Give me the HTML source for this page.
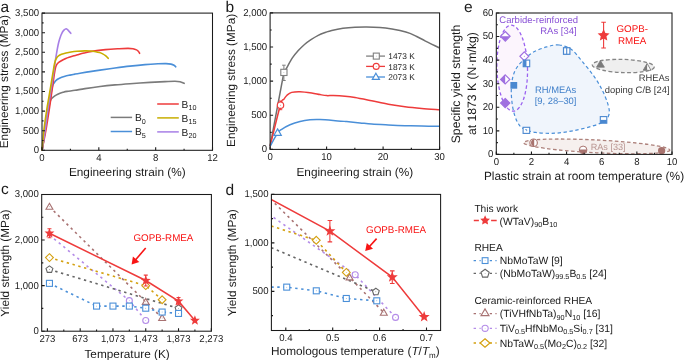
<!DOCTYPE html><html><head><meta charset="utf-8"><style>html,body{margin:0;padding:0;background:#fff;}svg{display:block;will-change:transform;}text{font-family:"Liberation Sans", sans-serif;text-rendering:geometricPrecision;}</style></head><body>
<svg width="685" height="360" viewBox="0 0 685 360">
<rect width="685" height="360" fill="#fff"/>
<path d="M42.1,150.3 C42.92,144.92 45.77,125.72 47,118 C48.23,110.28 48.9,106.95 49.5,104 C50.1,101.05 50.25,101.2 50.6,100.3 C50.95,99.4 51.17,99.13 51.6,98.6 C52.03,98.07 52.45,97.68 53.2,97.1 C53.95,96.52 54.97,95.73 56.1,95.1 C57.23,94.47 58.85,93.77 60,93.3 C61.15,92.83 61.83,92.62 63,92.3 C64.17,91.98 65,91.73 67,91.4 C69,91.07 72,90.77 75,90.3 C78,89.83 80.83,89.23 85,88.6 C89.17,87.97 95,87.12 100,86.5 C105,85.88 110,85.37 115,84.9 C120,84.43 124.17,84.12 130,83.7 C135.83,83.28 144.17,82.75 150,82.4 C155.83,82.05 160.83,81.78 165,81.6 C169.17,81.42 172.5,81.28 175,81.3 C177.5,81.32 178.47,81.37 180,81.7 C181.53,82.03 183.5,83.03 184.2,83.3" fill="none" stroke="#7b7b7b" stroke-width="1.6" stroke-linejoin="round" stroke-linecap="round"/>
<path d="M42.1,150.3 C43,144.42 46.1,124.05 47.5,115 C48.9,105.95 49.68,100.75 50.5,96 C51.32,91.25 51.92,88.52 52.4,86.5 C52.88,84.48 53,84.67 53.4,83.9 C53.8,83.13 54.35,82.48 54.8,81.9 C55.25,81.32 55.48,80.92 56.1,80.4 C56.72,79.88 57.57,79.32 58.5,78.8 C59.43,78.28 60.62,77.73 61.7,77.3 C62.78,76.87 63.62,76.57 65,76.2 C66.38,75.83 68.33,75.45 70,75.1 C71.67,74.75 73.33,74.42 75,74.1 C76.67,73.78 77.5,73.62 80,73.2 C82.5,72.78 86.67,72.12 90,71.6 C93.33,71.08 95.83,70.7 100,70.1 C104.17,69.5 110,68.67 115,68 C120,67.33 125,66.67 130,66.1 C135,65.53 140.33,64.98 145,64.6 C149.67,64.22 154.5,63.97 158,63.8 C161.5,63.63 163.83,63.55 166,63.6 C168.17,63.65 169.67,63.83 171,64.1 C172.33,64.37 173.2,64.75 174,65.2 C174.8,65.65 175.5,66.53 175.8,66.8" fill="none" stroke="#4a8fd8" stroke-width="1.6" stroke-linejoin="round" stroke-linecap="round"/>
<path d="M42.1,150.3 C42.27,149.42 42.4,148.72 43.1,145 C43.8,141.28 45.28,133.83 46.3,128 C47.32,122.17 48.28,116 49.2,110 C50.12,104 50.97,97.83 51.8,92 C52.63,86.17 53.62,78.92 54.2,75 C54.78,71.08 54.95,70.12 55.3,68.5 C55.65,66.88 55.85,66.22 56.3,65.3 C56.75,64.38 57.3,63.68 58,63 C58.7,62.32 59.2,61.95 60.5,61.2 C61.8,60.45 64.22,59.2 65.8,58.5 C67.38,57.8 68.47,57.5 70,57 C71.53,56.5 73.72,55.88 75,55.5 C76.28,55.12 76.2,55.12 77.7,54.7 C79.2,54.28 81.68,53.55 84,53 C86.32,52.45 88.02,51.97 91.6,51.4 C95.18,50.83 100.88,50.05 105.5,49.6 C110.12,49.15 115.55,48.9 119.3,48.7 C123.05,48.5 125.72,48.4 128,48.4 C130.28,48.4 131.58,48.45 133,48.7 C134.42,48.95 135.58,49.43 136.5,49.9 C137.42,50.37 137.98,50.93 138.5,51.5 C139.02,52.07 139.42,53 139.6,53.3" fill="none" stroke="#ee3b3b" stroke-width="1.6" stroke-linejoin="round" stroke-linecap="round"/>
<path d="M42.1,150.3 C42.62,146.92 44.25,136.72 45.2,130 C46.15,123.28 46.9,116.33 47.8,110 C48.7,103.67 49.68,97.83 50.6,92 C51.52,86.17 52.52,80.17 53.3,75 C54.08,69.83 54.73,64.75 55.3,61 C55.87,57.25 56.25,55.08 56.7,52.5 C57.15,49.92 57.58,47.5 58,45.5 C58.42,43.5 58.78,42.02 59.2,40.5 C59.62,38.98 60.08,37.55 60.5,36.4 C60.92,35.25 61.28,34.45 61.7,33.6 C62.12,32.75 62.58,31.92 63,31.3 C63.42,30.68 63.83,30.27 64.2,29.9 C64.57,29.53 64.87,29.28 65.2,29.1 C65.53,28.92 65.87,28.77 66.2,28.8 C66.53,28.83 66.85,29.03 67.2,29.3 C67.55,29.57 67.92,29.98 68.3,30.4 C68.68,30.82 69.08,31.32 69.5,31.8 C69.92,32.28 70.58,33.05 70.8,33.3" fill="none" stroke="#a77fe6" stroke-width="1.6" stroke-linejoin="round" stroke-linecap="round"/>
<path d="M42.1,150.3 C42.4,146.92 43.13,136.72 43.9,130 C44.67,123.28 45.75,116.17 46.7,110 C47.65,103.83 48.62,98.83 49.6,93 C50.58,87.17 51.83,79.58 52.6,75 C53.37,70.42 53.75,67.87 54.2,65.5 C54.65,63.13 54.9,62.05 55.3,60.8 C55.7,59.55 56.07,58.82 56.6,58 C57.13,57.18 57.68,56.52 58.5,55.9 C59.32,55.28 60.25,54.78 61.5,54.3 C62.75,53.82 64.42,53.38 66,53 C67.58,52.62 69.17,52.28 71,52 C72.83,51.72 74.72,51.48 77,51.3 C79.28,51.12 82.53,50.95 84.7,50.9 C86.87,50.85 88.15,50.87 90,51 C91.85,51.13 94.22,51.43 95.8,51.7 C97.38,51.97 98.35,52.23 99.5,52.6 C100.65,52.97 101.7,53.38 102.7,53.9 C103.7,54.42 104.57,54.97 105.5,55.7 C106.43,56.43 107.83,57.87 108.3,58.3" fill="none" stroke="#c8ae00" stroke-width="1.6" stroke-linejoin="round" stroke-linecap="round"/>
<rect x="42" y="13.1" width="170.5" height="137.2" fill="none" stroke="#1a1a1a" stroke-width="1.05"/>
<path d="M42,150.3 v-3 M98.83,150.3 v-3 M155.67,150.3 v-3 M212.5,150.3 v-3 M70.42,150.3 v-1.6 M127.25,150.3 v-1.6 M184.08,150.3 v-1.6 M42,150.3 h3 M42,130.7 h3 M42,111.1 h3 M42,91.5 h3 M42,71.9 h3 M42,52.3 h3 M42,32.7 h3 M42,13.1 h3 M42,140.5 h1.6 M42,120.9 h1.6 M42,101.3 h1.6 M42,81.7 h1.6 M42,62.1 h1.6 M42,42.5 h1.6 M42,22.9 h1.6 " stroke="#1a1a1a" stroke-width="1.1" fill="none"/>
<text transform="translate(42,160.7) scale(1,1.04)" font-size="9.6" text-anchor="middle" fill="#1a1a1a">0</text>
<text transform="translate(98.83,160.7) scale(1,1.04)" font-size="9.6" text-anchor="middle" fill="#1a1a1a">4</text>
<text transform="translate(155.67,160.7) scale(1,1.04)" font-size="9.6" text-anchor="middle" fill="#1a1a1a">8</text>
<text transform="translate(212.5,160.7) scale(1,1.04)" font-size="9.6" text-anchor="middle" fill="#1a1a1a">12</text>
<text transform="translate(39.1,153.19) scale(1,1.04)" font-size="9.6" text-anchor="end" fill="#1a1a1a">0</text>
<text transform="translate(39.1,133.59) scale(1,1.04)" font-size="9.6" text-anchor="end" fill="#1a1a1a">500</text>
<text transform="translate(39.1,113.99) scale(1,1.04)" font-size="9.6" text-anchor="end" fill="#1a1a1a">1,000</text>
<text transform="translate(39.1,94.39) scale(1,1.04)" font-size="9.6" text-anchor="end" fill="#1a1a1a">1,500</text>
<text transform="translate(39.1,74.79) scale(1,1.04)" font-size="9.6" text-anchor="end" fill="#1a1a1a">2,000</text>
<text transform="translate(39.1,55.19) scale(1,1.04)" font-size="9.6" text-anchor="end" fill="#1a1a1a">2,500</text>
<text transform="translate(39.1,35.59) scale(1,1.04)" font-size="9.6" text-anchor="end" fill="#1a1a1a">3,000</text>
<text transform="translate(39.1,15.99) scale(1,1.04)" font-size="9.6" text-anchor="end" fill="#1a1a1a">3,500</text>
<path d="M110.7,117.4 H132.1" stroke="#7b7b7b" stroke-width="1.5"/>
<path d="M110.7,131.5 H132.1" stroke="#4a8fd8" stroke-width="1.5"/>
<path d="M157.2,104 H178.8" stroke="#ee3b3b" stroke-width="1.5"/>
<path d="M157.2,117.9 H178.8" stroke="#c8ae00" stroke-width="1.5"/>
<path d="M157.2,131.9 H178.8" stroke="#a77fe6" stroke-width="1.5"/>
<text x="135" y="121.2" font-size="10.2" fill="#1a1a1a">B<tspan font-size="7.2" dy="2.6">0</tspan></text>
<text x="135" y="135.3" font-size="10.2" fill="#1a1a1a">B<tspan font-size="7.2" dy="2.6">5</tspan></text>
<text x="181.6" y="107.8" font-size="10.2" fill="#1a1a1a">B<tspan font-size="7.2" dy="2.6">10</tspan></text>
<text x="181.6" y="121.7" font-size="10.2" fill="#1a1a1a">B<tspan font-size="7.2" dy="2.6">15</tspan></text>
<text x="181.6" y="135.7" font-size="10.2" fill="#1a1a1a">B<tspan font-size="7.2" dy="2.6">20</tspan></text>
<text x="0.6" y="11.7" font-size="15.5" text-anchor="start" fill="#1a1a1a" >a</text>
<text x="127.25" y="176.1" font-size="11.8" text-anchor="middle" fill="#1a1a1a" >Engineering strain (%)</text>
<text transform="translate(8.4,81.7) rotate(-90)" font-size="11.8" text-anchor="middle" fill="#1a1a1a">Engineering stress (MPa)</text>
<path d="M270.1,146.2 L283.9,72.4 C284.27,71.82 284.72,71.27 286.1,68.9 C287.48,66.53 290.17,61.25 292.2,58.2 C294.23,55.15 296.25,52.88 298.3,50.6 C300.35,48.32 302.45,46.28 304.5,44.5 C306.55,42.72 308.32,41.43 310.6,39.9 C312.88,38.37 315.65,36.58 318.2,35.3 C320.75,34.02 323.65,33.02 325.9,32.2 C328.15,31.38 328.85,31.05 331.7,30.4 C334.55,29.75 339.12,28.83 343,28.3 C346.88,27.77 351.05,27.43 355,27.2 C358.95,26.97 362.53,26.85 366.7,26.9 C370.87,26.95 375.78,27.15 380,27.5 C384.22,27.85 388.67,28.48 392,29 C395.33,29.52 397,29.87 400,30.6 C403,31.33 407.22,32.42 410,33.4 C412.78,34.38 414.2,35.27 416.7,36.5 C419.2,37.73 422.45,39.5 425,40.8 C427.55,42.1 429.57,43.1 432,44.3 C434.43,45.5 438.33,47.38 439.6,48" fill="none" stroke="#707070" stroke-width="1.5" stroke-linejoin="round"/>
<path d="M270.1,146.2 C271.82,139.33 278.12,112.82 280.4,105 C282.68,97.18 282.7,100.93 283.8,99.3 C284.9,97.67 285.68,96.35 287,95.2 C288.32,94.05 289.53,92.98 291.7,92.4 C293.87,91.82 296.67,91.6 300,91.7 C303.33,91.8 308.37,92.52 311.7,93 C315.03,93.48 317.5,94.17 320,94.6 C322.5,95.03 324.48,95.45 326.7,95.6 C328.92,95.75 330.25,95.4 333.3,95.5 C336.35,95.6 341.38,95.87 345,96.2 C348.62,96.53 350.55,96.73 355,97.5 C359.45,98.27 366.15,99.68 371.7,100.8 C377.25,101.92 382.75,103.22 388.3,104.2 C393.85,105.18 399.43,106 405,106.7 C410.57,107.4 415.93,107.9 421.7,108.4 C427.47,108.9 436.62,109.48 439.6,109.7" fill="none" stroke="#ee3b3b" stroke-width="1.5" stroke-linejoin="round"/>
<path d="M270.1,146.2 C271.35,144.03 275.67,136.02 277.6,133.2 C279.53,130.38 279.63,130.72 281.7,129.3 C283.77,127.88 286.95,126.02 290,124.7 C293.05,123.38 296.67,122.22 300,121.4 C303.33,120.58 306.67,120.1 310,119.8 C313.33,119.5 316.12,119.5 320,119.6 C323.88,119.7 328.85,120.07 333.3,120.4 C337.75,120.73 342.25,121.18 346.7,121.6 C351.15,122.02 355.83,122.48 360,122.9 C364.17,123.32 366.98,123.75 371.7,124.1 C376.42,124.45 382.75,124.73 388.3,125 C393.85,125.27 399.43,125.52 405,125.7 C410.57,125.88 415.93,126 421.7,126.1 C427.47,126.2 436.62,126.27 439.6,126.3" fill="none" stroke="#4a8fd8" stroke-width="1.5" stroke-linejoin="round"/>
<path d="M283.9,65.2 V80.5 M282.1,65.2 h3.6 M282.1,80.5 h3.6" stroke="#808080" stroke-width="1.0" fill="none"/>
<rect x="280.8" y="69.3" width="6.2" height="6.2" fill="#fff" stroke="#808080" stroke-width="1.1" />
<circle cx="283.9" cy="72.4" r="0.45" fill="#999"/>
<path d="M280.5,101 V109.7 M278.75,101 h3.5 M278.75,109.7 h3.5" stroke="#ee3b3b" stroke-width="1.0" fill="none"/>
<circle cx="280.5" cy="105.2" r="3.2" fill="#fff" stroke="#ee3b3b" stroke-width="1.2" />
<circle cx="280.5" cy="105.2" r="0.45" fill="#ee3b3b"/>
<path d="M277.6,128.92 L281.28,135.32 L273.92,135.32Z" fill="#fff" stroke="#4a8fd8" stroke-width="1.2" stroke-linejoin="miter" />
<rect x="270.1" y="12.9" width="169.5" height="136.5" fill="none" stroke="#1a1a1a" stroke-width="1.05"/>
<path d="M270.1,149.4 v-3 M326.6,149.4 v-3 M383.1,149.4 v-3 M439.6,149.4 v-3 M298.35,149.4 v-1.6 M354.85,149.4 v-1.6 M411.35,149.4 v-1.6 M270.1,149.4 h3 M270.1,115.28 h3 M270.1,81.15 h3 M270.1,47.03 h3 M270.1,12.9 h3 M270.1,132.34 h1.6 M270.1,98.21 h1.6 M270.1,64.09 h1.6 M270.1,29.96 h1.6 " stroke="#1a1a1a" stroke-width="1.1" fill="none"/>
<text transform="translate(270.1,159.8) scale(1,1.04)" font-size="9.6" text-anchor="middle" fill="#1a1a1a">0</text>
<text transform="translate(326.6,159.8) scale(1,1.04)" font-size="9.6" text-anchor="middle" fill="#1a1a1a">10</text>
<text transform="translate(383.1,159.8) scale(1,1.04)" font-size="9.6" text-anchor="middle" fill="#1a1a1a">20</text>
<text transform="translate(439.6,159.8) scale(1,1.04)" font-size="9.6" text-anchor="middle" fill="#1a1a1a">30</text>
<text transform="translate(267.2,152.29) scale(1,1.04)" font-size="9.6" text-anchor="end" fill="#1a1a1a">0</text>
<text transform="translate(267.2,118.16) scale(1,1.04)" font-size="9.6" text-anchor="end" fill="#1a1a1a">500</text>
<text transform="translate(267.2,84.04) scale(1,1.04)" font-size="9.6" text-anchor="end" fill="#1a1a1a">1,000</text>
<text transform="translate(267.2,49.91) scale(1,1.04)" font-size="9.6" text-anchor="end" fill="#1a1a1a">1,500</text>
<text transform="translate(267.2,15.79) scale(1,1.04)" font-size="9.6" text-anchor="end" fill="#1a1a1a">2,000</text>
<path d="M366.1,56.1 H385" stroke="#808080" stroke-width="1.3"/>
<rect x="373.3" y="53.1" width="6" height="6" fill="#fff" stroke="#808080" stroke-width="1.1" />
<circle cx="376.3" cy="56.1" r="0.45" fill="#999"/>
<path d="M366.1,66.4 H385" stroke="#ee3b3b" stroke-width="1.3"/>
<circle cx="376.2" cy="66.4" r="3" fill="#fff" stroke="#ee3b3b" stroke-width="1.1" />
<circle cx="376.2" cy="66.4" r="0.45" fill="#ee3b3b"/>
<path d="M366.1,77 H385" stroke="#4a8fd8" stroke-width="1.3"/>
<path d="M375.9,73.23 L379.46,79.44 L372.33,79.44Z" fill="#fff" stroke="#4a8fd8" stroke-width="1.2" stroke-linejoin="miter" />
<text x="388.3" y="59.4" font-size="8.35" text-anchor="start" fill="#1a1a1a" >1473 K</text>
<text x="388.3" y="69.7" font-size="8.35" text-anchor="start" fill="#1a1a1a" >1873 K</text>
<text x="388.3" y="80.2" font-size="8.35" text-anchor="start" fill="#1a1a1a" >2073 K</text>
<text x="225.5" y="11.6" font-size="15.5" text-anchor="start" fill="#1a1a1a" >b</text>
<text x="354.85" y="176.1" font-size="11.8" text-anchor="middle" fill="#1a1a1a" >Engineering strain (%)</text>
<text transform="translate(235.2,80.35) rotate(-90)" font-size="11.8" text-anchor="middle" fill="#1a1a1a">Engineering stress (MPa)</text>
<defs><clipPath id="ce"><rect x="496.3" y="13" width="175.7" height="141.4"/></clipPath></defs>
<g clip-path="url(#ce)">
<ellipse cx="596.8" cy="146.4" rx="73.2" ry="6.4" transform="rotate(2.9 596.8 146.4)" fill="#f6f0ee" stroke="#ad817b" stroke-width="1.3" stroke-dasharray="3.5 2.5"/>
<ellipse cx="512.2" cy="68.2" rx="15.3" ry="43" transform="rotate(-1.5 512.2 68.2)" fill="#fcf5fd" stroke="none"/>
<path d="M559.2,45 C555.03,44.53 551.07,45.68 546.7,46.9 C542.33,48.12 537.03,49.95 533,52.3 C528.97,54.65 525.33,58.25 522.5,61 C519.67,63.75 517.65,65.97 516,68.8 C514.35,71.63 513.38,74.63 512.6,78 C511.82,81.37 511.45,85.42 511.3,89 C511.15,92.58 511.35,95.9 511.7,99.5 C512.05,103.1 512.48,106.9 513.4,110.6 C514.32,114.3 515.6,118.72 517.2,121.7 C518.8,124.68 519.93,126.72 523,128.5 C526.07,130.28 530.27,131.62 535.6,132.4 C540.93,133.18 548.53,133.52 555,133.2 C561.47,132.88 567.92,131.77 574.4,130.5 C580.88,129.23 588.8,127.25 593.9,125.6 C599,123.95 602.45,122.6 605,120.6 C607.55,118.6 608.73,116.38 609.2,113.6 C609.67,110.82 608.97,107.83 607.8,103.9 C606.63,99.97 604.52,94.63 602.2,90 C599.88,85.37 597.13,80.73 593.9,76.1 C590.67,71.47 586.5,66.6 582.8,62.2 C579.1,57.8 575.63,52.57 571.7,49.7 C567.77,46.83 563.37,45.47 559.2,45Z" fill="#edf3fc" fill-opacity="0.85" stroke="none"/>
<ellipse cx="512.2" cy="68.2" rx="15.3" ry="43" transform="rotate(-1.5 512.2 68.2)" fill="none" stroke="#9b63f0" stroke-width="1.3" stroke-dasharray="3.4 2.4"/>
<path d="M559.2,45 C555.03,44.53 551.07,45.68 546.7,46.9 C542.33,48.12 537.03,49.95 533,52.3 C528.97,54.65 525.33,58.25 522.5,61 C519.67,63.75 517.65,65.97 516,68.8 C514.35,71.63 513.38,74.63 512.6,78 C511.82,81.37 511.45,85.42 511.3,89 C511.15,92.58 511.35,95.9 511.7,99.5 C512.05,103.1 512.48,106.9 513.4,110.6 C514.32,114.3 515.6,118.72 517.2,121.7 C518.8,124.68 519.93,126.72 523,128.5 C526.07,130.28 530.27,131.62 535.6,132.4 C540.93,133.18 548.53,133.52 555,133.2 C561.47,132.88 567.92,131.77 574.4,130.5 C580.88,129.23 588.8,127.25 593.9,125.6 C599,123.95 602.45,122.6 605,120.6 C607.55,118.6 608.73,116.38 609.2,113.6 C609.67,110.82 608.97,107.83 607.8,103.9 C606.63,99.97 604.52,94.63 602.2,90 C599.88,85.37 597.13,80.73 593.9,76.1 C590.67,71.47 586.5,66.6 582.8,62.2 C579.1,57.8 575.63,52.57 571.7,49.7 C567.77,46.83 563.37,45.47 559.2,45Z" fill="none" stroke="#4a8fd8" stroke-width="1.2" stroke-dasharray="3.4 2.6"/>
<ellipse cx="623.3" cy="66.0" rx="31" ry="6.6" transform="rotate(2 623.3 66)" fill="#efefef" stroke="#858585" stroke-width="1.35" stroke-dasharray="3.8 2.4"/>
</g>
<path d="M505.3,31.6 L510.1,36.3 L505.3,41 L500.5,36.3Z" fill="#fff"/>
<path d="M500.5,36.3 L510.1,36.3 L505.3,41.1Z" fill="#a070e0"/>
<path d="M505.3,31.5 L510.1,36.3 L505.3,41.1 L500.5,36.3Z" fill="none" stroke="#a070e0" stroke-width="1.2"/>
<path d="M524.3,52 L528.8,56.3 L524.3,60.6 L519.8,56.3Z" fill="#fff"/>
<path d="M524.3,51.9 L528.7,56.3 L524.3,60.7 L519.9,56.3Z" fill="none" stroke="#a070e0" stroke-width="1.2"/>
<circle cx="524.3" cy="56.3" r="0.5" fill="#a070e0"/>
<path d="M505.2,74.7 L509.9,79.4 L505.2,84.1 L500.5,79.4Z" fill="#fff"/>
<path d="M505.2,74.8 L505.2,84 L500.6,79.4Z" fill="#a070e0"/>
<path d="M505.2,74.8 L509.8,79.4 L505.2,84 L500.6,79.4Z" fill="none" stroke="#a070e0" stroke-width="1.2"/>
<path d="M505.2,98.5 L509.8,103.1 L505.2,107.7 L500.6,103.1Z" fill="#a070e0"/>
<path d="M505.2,98.5 L509.8,103.1 L505.2,107.7 L500.6,103.1Z" fill="none" stroke="#a070e0" stroke-width="1.2"/>
<rect x="523.2" y="60.1" width="6.5" height="6.6" fill="#fff" stroke="#4a88d0" stroke-width="1.1"/>
<rect x="523.2" y="60.1" width="3.25" height="6.6" fill="#4a88d0"/>
<rect x="510.4" y="82.0" width="6.8" height="6.7" fill="#4a88d0"/>
<rect x="563.5" y="47.7" width="6.4" height="6.6" fill="#fff" stroke="#4a88d0" stroke-width="1.2"/>
<path d="M566.7,47.7 V54.3" stroke="#4a88d0" stroke-width="1.1"/>
<rect x="523.1" y="127.3" width="6.6" height="6.1" fill="#fff" stroke="#4a88d0" stroke-width="1.1"/>
<path d="M525.2,129.6 h1.5 v1.6" stroke="#4a88d0" stroke-width="0.8" fill="none"/>
<rect x="600.3" y="116.6" width="6.5" height="6.6" fill="#fff" stroke="#4a88d0" stroke-width="1.1"/>
<rect x="600.3" y="119.9" width="6.5" height="3.3" fill="#4a88d0"/>
<path d="M600.4,60.6 L604.4,67.2 L596.5,67.2Z" fill="#7a7a7a" stroke="#7a7a7a" stroke-width="0.8"/>
<path d="M647.1,63.5 L651,70.3 L643.2,70.3Z" fill="#fff" stroke="#7a7a7a" stroke-width="0.9"/>
<path d="M647.1,63.5 L647.1,70.3 L643.2,70.3Z" fill="#7a7a7a"/>
<circle cx="533.6" cy="142.7" r="3.75" fill="#fff" stroke="#a8736e" stroke-width="1.1"/>
<path d="M534.2,138.95 A3.8,3.8 0 0 0 534.2,146.45 L534.2,138.95Z" fill="#a8736e"/>
<circle cx="583.1" cy="149.9" r="3.8" fill="#fff" stroke="#a8736e" stroke-width="1"/>
<path d="M579.3,149.6 A3.8,3.8 0 0 0 586.9,149.6Z" fill="#a8736e"/>
<circle cx="661.6" cy="150.7" r="3.6" fill="#a8736e"/>
<path d="M603.6,22.2 V48 M601.3,22.2 h4.6 M601.3,48 h4.6" stroke="#ee3b3b" stroke-width="1.1" fill="none"/>
<path d="M603.6,29.1 L605.36,32.97 L609.59,33.45 L606.45,36.33 L607.3,40.5 L603.6,38.4 L599.9,40.5 L600.75,36.33 L597.61,33.45 L601.84,32.97Z" fill="#ee3b3b"/>
<rect x="496.3" y="13" width="175.7" height="141.4" fill="none" stroke="#1a1a1a" stroke-width="1.05"/>
<path d="M496.3,154.4 v-3 M531.44,154.4 v-3 M566.58,154.4 v-3 M601.72,154.4 v-3 M636.86,154.4 v-3 M672,154.4 v-3 M513.87,154.4 v-1.6 M549.01,154.4 v-1.6 M584.15,154.4 v-1.6 M619.29,154.4 v-1.6 M654.43,154.4 v-1.6 M496.3,154.4 h3 M496.3,130.83 h3 M496.3,107.27 h3 M496.3,83.7 h3 M496.3,60.13 h3 M496.3,36.57 h3 M496.3,13 h3 M496.3,142.62 h1.6 M496.3,119.05 h1.6 M496.3,95.48 h1.6 M496.3,71.92 h1.6 M496.3,48.35 h1.6 M496.3,24.78 h1.6 " stroke="#1a1a1a" stroke-width="1.1" fill="none"/>
<text transform="translate(496.3,164.8) scale(1,1.04)" font-size="9.6" text-anchor="middle" fill="#1a1a1a">0</text>
<text transform="translate(531.44,164.8) scale(1,1.04)" font-size="9.6" text-anchor="middle" fill="#1a1a1a">2</text>
<text transform="translate(566.58,164.8) scale(1,1.04)" font-size="9.6" text-anchor="middle" fill="#1a1a1a">4</text>
<text transform="translate(601.72,164.8) scale(1,1.04)" font-size="9.6" text-anchor="middle" fill="#1a1a1a">6</text>
<text transform="translate(636.86,164.8) scale(1,1.04)" font-size="9.6" text-anchor="middle" fill="#1a1a1a">8</text>
<text transform="translate(672,164.8) scale(1,1.04)" font-size="9.6" text-anchor="middle" fill="#1a1a1a">10</text>
<text transform="translate(493.4,157.29) scale(1,1.04)" font-size="9.6" text-anchor="end" fill="#1a1a1a">0</text>
<text transform="translate(493.4,133.72) scale(1,1.04)" font-size="9.6" text-anchor="end" fill="#1a1a1a">10</text>
<text transform="translate(493.4,110.15) scale(1,1.04)" font-size="9.6" text-anchor="end" fill="#1a1a1a">20</text>
<text transform="translate(493.4,86.59) scale(1,1.04)" font-size="9.6" text-anchor="end" fill="#1a1a1a">30</text>
<text transform="translate(493.4,63.02) scale(1,1.04)" font-size="9.6" text-anchor="end" fill="#1a1a1a">40</text>
<text transform="translate(493.4,39.45) scale(1,1.04)" font-size="9.6" text-anchor="end" fill="#1a1a1a">50</text>
<text transform="translate(493.4,15.89) scale(1,1.04)" font-size="9.6" text-anchor="end" fill="#1a1a1a">60</text>
<text x="499.3" y="22.6" font-size="9.5" text-anchor="start" fill="#8a52d6" >Carbide-reinforced</text>
<text x="576.7" y="33.7" font-size="9.5" text-anchor="end" fill="#8a52d6" >RAs [34]</text>
<text x="555.6" y="92.6" font-size="9.4" text-anchor="middle" fill="#3f7fc9" >RH/MEAs</text>
<text x="555.6" y="104.2" font-size="9.4" text-anchor="middle" fill="#3f7fc9" >[9, 28–30]</text>
<text x="669.5" y="81.2" font-size="9.4" text-anchor="end" fill="#3a3a3a" >RHEAs</text>
<text x="669.5" y="93" font-size="9.4" text-anchor="end" fill="#3a3a3a" >doping C/B [24]</text>
<text x="590.7" y="149.7" font-size="9.1" text-anchor="start" fill="#b89490" >RAs [33]</text>
<text x="632.2" y="32" font-size="9.8" text-anchor="middle" fill="#f81414" >GOPB-</text>
<text x="632.2" y="43.8" font-size="9.8" text-anchor="middle" fill="#f81414" >RMEA</text>
<text x="464" y="11.5" font-size="15.5" text-anchor="start" fill="#1a1a1a" >e</text>
<text x="584" y="180.2" font-size="11.9" text-anchor="middle" fill="#1a1a1a" >Plastic strain at room temperature (%)</text>
<text transform="translate(459.6,84) rotate(-90)" font-size="12.2" text-anchor="middle" fill="#1a1a1a">Specific yield strength</text>
<text transform="translate(475.5,83.6) rotate(-90)" font-size="12.2" text-anchor="middle" fill="#1a1a1a">at 1873 K (N·m/kg)</text>
<path d="M49.45,206.76 L145.74,301.81 L162.13,317.99" fill="none" stroke="#a87272" stroke-width="1.6" stroke-dasharray="2.4 3.6"/>
<path d="M49.45,235.05 L129.35,300.67 L145.74,320.45" fill="none" stroke="#b48ce8" stroke-width="1.6" stroke-dasharray="2.4 3.6"/>
<path d="M49.45,257.61 L145.74,285.63 L162.13,299.76" fill="none" stroke="#d4a010" stroke-width="1.6" stroke-dasharray="2.4 3.6"/>
<path d="M49.45,269.46 L178.52,308.42" fill="none" stroke="#666666" stroke-width="1.6" stroke-dasharray="2.4 3.6"/>
<path d="M49.45,283.36 L96.57,306.09 L112.96,306.09 L129.35,306.09 L145.74,308.19 L162.13,312.06 L178.52,313.43" fill="none" stroke="#4a8fd8" stroke-width="1.6" stroke-dasharray="2.4 3.6"/>
<path d="M49.45,203.31 L52.9,209.31 L46,209.31Z" fill="#fff" stroke="#a87272" stroke-width="1.1" stroke-linejoin="miter" />
<circle cx="49.45" cy="206.76" r="0.45" fill="#a87272"/>
<path d="M145.74,298.36 L149.19,304.36 L142.29,304.36Z" fill="#fff" stroke="#a87272" stroke-width="1.1" stroke-linejoin="miter" />
<circle cx="145.74" cy="301.81" r="0.45" fill="#a87272"/>
<path d="M162.13,314.54 L165.58,320.54 L158.68,320.54Z" fill="#fff" stroke="#a87272" stroke-width="1.1" stroke-linejoin="miter" />
<circle cx="162.13" cy="317.99" r="0.45" fill="#a87272"/>
<circle cx="129.35" cy="300.67" r="3" fill="#fff" stroke="#b48ce8" stroke-width="1.1" />
<circle cx="129.35" cy="300.67" r="0.45" fill="#b48ce8"/>
<circle cx="145.74" cy="320.45" r="3" fill="#fff" stroke="#b48ce8" stroke-width="1.1" />
<circle cx="145.74" cy="320.45" r="0.45" fill="#b48ce8"/>
<path d="M49.45,253.69 L53.36,257.61 L49.45,261.52 L45.53,257.61Z" fill="#fff" stroke="#d4a010" stroke-width="1.1" />
<circle cx="49.45" cy="257.61" r="0.45" fill="#d4a010"/>
<path d="M145.74,281.72 L149.66,285.63 L145.74,289.55 L141.83,285.63Z" fill="#fff" stroke="#d4a010" stroke-width="1.1" />
<circle cx="145.74" cy="285.63" r="0.45" fill="#d4a010"/>
<path d="M162.13,295.84 L166.04,299.76 L162.13,303.67 L158.22,299.76Z" fill="#fff" stroke="#d4a010" stroke-width="1.1" />
<circle cx="162.13" cy="299.76" r="0.45" fill="#d4a010"/>
<path d="M49.45,265.86 L52.87,268.34 L51.56,272.37 L47.33,272.37 L46.02,268.34Z" fill="#fff" stroke="#666666" stroke-width="1.1" />
<circle cx="49.45" cy="269.46" r="0.45" fill="#666666"/>
<path d="M178.52,304.82 L181.94,307.3 L180.64,311.33 L176.4,311.33 L175.1,307.3Z" fill="#fff" stroke="#666666" stroke-width="1.1" />
<circle cx="178.52" cy="308.42" r="0.45" fill="#666666"/>
<rect x="46.45" y="280.36" width="6" height="6" fill="#fff" stroke="#4a8fd8" stroke-width="1.1" />
<circle cx="49.45" cy="283.36" r="0.45" fill="#4a8fd8"/>
<rect x="93.57" y="303.09" width="6" height="6" fill="#fff" stroke="#4a8fd8" stroke-width="1.1" />
<circle cx="96.57" cy="306.09" r="0.45" fill="#4a8fd8"/>
<rect x="109.96" y="303.09" width="6" height="6" fill="#fff" stroke="#4a8fd8" stroke-width="1.1" />
<circle cx="112.96" cy="306.09" r="0.45" fill="#4a8fd8"/>
<rect x="126.35" y="303.09" width="6" height="6" fill="#fff" stroke="#4a8fd8" stroke-width="1.1" />
<circle cx="129.35" cy="306.09" r="0.45" fill="#4a8fd8"/>
<rect x="142.74" y="305.19" width="6" height="6" fill="#fff" stroke="#4a8fd8" stroke-width="1.1" />
<circle cx="145.74" cy="308.19" r="0.45" fill="#4a8fd8"/>
<rect x="159.13" y="309.06" width="6" height="6" fill="#fff" stroke="#4a8fd8" stroke-width="1.1" />
<circle cx="162.13" cy="312.06" r="0.45" fill="#4a8fd8"/>
<rect x="175.52" y="310.43" width="6" height="6" fill="#fff" stroke="#4a8fd8" stroke-width="1.1" />
<circle cx="178.52" cy="313.43" r="0.45" fill="#4a8fd8"/>
<path d="M49.45,233.23 L145.74,280.53 L178.52,301.17 L194.91,320.45" fill="none" stroke="#ee3b3b" stroke-width="1.5"/>
<path d="M49.45,228.69 V237.77 M47.45,228.69 h4 M47.45,237.77 h4" stroke="#ee3b3b" stroke-width="1.1" fill="none"/>
<path d="M49.45,228.03 L50.74,231.45 L54.39,231.62 L51.54,233.91 L52.51,237.44 L49.45,235.43 L46.39,237.44 L47.36,233.91 L44.5,231.62 L48.16,231.45Z" fill="#ee3b3b"/>
<path d="M145.74,275.09 V285.97 M143.74,275.09 h4 M143.74,285.97 h4" stroke="#ee3b3b" stroke-width="1.1" fill="none"/>
<path d="M145.74,275.33 L147.03,278.75 L150.69,278.92 L147.83,281.21 L148.8,284.74 L145.74,282.73 L142.68,284.74 L143.65,281.21 L140.79,278.92 L144.45,278.75Z" fill="#ee3b3b"/>
<path d="M178.52,297.54 V304.8 M176.52,297.54 h4 M176.52,304.8 h4" stroke="#ee3b3b" stroke-width="1.1" fill="none"/>
<path d="M178.52,295.97 L179.81,299.39 L183.47,299.56 L180.61,301.85 L181.58,305.38 L178.52,303.37 L175.46,305.38 L176.43,301.85 L173.57,299.56 L177.23,299.39Z" fill="#ee3b3b"/>
<path d="M194.91,315.25 L196.2,318.67 L199.86,318.84 L197,321.13 L197.97,324.65 L194.91,322.65 L191.85,324.65 L192.82,321.13 L189.96,318.84 L193.62,318.67Z" fill="#ee3b3b"/>
<rect x="41.7" y="194.5" width="169.7" height="136.7" fill="none" stroke="#1a1a1a" stroke-width="1.05"/>
<path d="M47.4,331.2 v-3 M80.18,331.2 v-3 M112.96,331.2 v-3 M145.74,331.2 v-3 M178.52,331.2 v-3 M211.3,331.2 v-3 M63.79,331.2 v-1.6 M96.57,331.2 v-1.6 M129.35,331.2 v-1.6 M162.13,331.2 v-1.6 M194.91,331.2 v-1.6 M41.7,331.2 h3 M41.7,285.63 h3 M41.7,240.07 h3 M41.7,194.5 h3 M41.7,308.42 h1.6 M41.7,262.85 h1.6 M41.7,217.28 h1.6 " stroke="#1a1a1a" stroke-width="1.1" fill="none"/>
<text transform="translate(47.4,341.6) scale(1,1.04)" font-size="9.6" text-anchor="middle" fill="#1a1a1a">273</text>
<text transform="translate(80.18,341.6) scale(1,1.04)" font-size="9.6" text-anchor="middle" fill="#1a1a1a">673</text>
<text transform="translate(112.96,341.6) scale(1,1.04)" font-size="9.6" text-anchor="middle" fill="#1a1a1a">1,073</text>
<text transform="translate(145.74,341.6) scale(1,1.04)" font-size="9.6" text-anchor="middle" fill="#1a1a1a">1,473</text>
<text transform="translate(178.52,341.6) scale(1,1.04)" font-size="9.6" text-anchor="middle" fill="#1a1a1a">1,873</text>
<text transform="translate(211.3,341.6) scale(1,1.04)" font-size="9.6" text-anchor="middle" fill="#1a1a1a">2,273</text>
<text transform="translate(38.8,334.09) scale(1,1.04)" font-size="9.6" text-anchor="end" fill="#1a1a1a">0</text>
<text transform="translate(38.8,288.52) scale(1,1.04)" font-size="9.6" text-anchor="end" fill="#1a1a1a">1,000</text>
<text transform="translate(38.8,242.95) scale(1,1.04)" font-size="9.6" text-anchor="end" fill="#1a1a1a">2,000</text>
<text transform="translate(38.8,197.39) scale(1,1.04)" font-size="9.6" text-anchor="end" fill="#1a1a1a">3,000</text>
<text x="133.5" y="240.7" font-size="9.8" text-anchor="start" fill="#f81414" >GOPB-RMEA</text>
<path d="M145.7,247.9 L135.47,260.02" stroke="#f81414" stroke-width="1.6"/>
<path d="M131.6,264.6 L132.91,256.54 L139.32,261.96Z" fill="#f81414"/>
<text x="1" y="194.2" font-size="15.5" text-anchor="start" fill="#1a1a1a" >c</text>
<text x="127.1" y="357.7" font-size="11.8" text-anchor="middle" fill="#1a1a1a" >Temperature (K)</text>
<text transform="translate(8.9,263.1) rotate(-90)" font-size="11.8" text-anchor="middle" fill="#1a1a1a">Yield strength (MPa)</text>
<defs><clipPath id="cd"><rect x="271.4" y="194.4" width="169.2" height="136.1"/></clipPath></defs>
<g clip-path="url(#cd)">
<path d="M274.78,203.32 L349.58,277.33 L383.82,312.64" fill="none" stroke="#a87272" stroke-width="1.6" stroke-dasharray="2.4 3.6"/>
<path d="M273.61,217.49 L355.21,274.72 L395.55,317.4" fill="none" stroke="#b48ce8" stroke-width="1.6" stroke-dasharray="2.4 3.6"/>
<path d="M271.26,226.02 L316.29,240.28 L346.3,272.39" fill="none" stroke="#d4a010" stroke-width="1.6" stroke-dasharray="2.4 3.6"/>
<path d="M271.26,247.65 L375.85,291.79" fill="none" stroke="#666666" stroke-width="1.6" stroke-dasharray="2.4 3.6"/>
<path d="M271.26,287.13 L286.74,287.13 L316.29,290.82 L346.3,298.48 L376.79,300.81" fill="none" stroke="#4a8fd8" stroke-width="1.6" stroke-dasharray="2.4 3.6"/>
<path d="M267.04,197.31 L329.89,231.16 L392.26,277.14 L424.15,316.91" fill="none" stroke="#ee3b3b" stroke-width="1.5"/>
</g>
<path d="M349.58,273.88 L353.03,279.88 L346.13,279.88Z" fill="#fff" stroke="#a87272" stroke-width="1.1" stroke-linejoin="miter" />
<circle cx="349.58" cy="277.33" r="0.45" fill="#a87272"/>
<path d="M383.82,309.19 L387.27,315.19 L380.37,315.19Z" fill="#fff" stroke="#a87272" stroke-width="1.1" stroke-linejoin="miter" />
<circle cx="383.82" cy="312.64" r="0.45" fill="#a87272"/>
<circle cx="355.21" cy="274.72" r="3" fill="#fff" stroke="#b48ce8" stroke-width="1.1" />
<circle cx="355.21" cy="274.72" r="0.45" fill="#b48ce8"/>
<circle cx="395.55" cy="317.4" r="3" fill="#fff" stroke="#b48ce8" stroke-width="1.1" />
<circle cx="395.55" cy="317.4" r="0.45" fill="#b48ce8"/>
<path d="M316.29,236.37 L320.2,240.28 L316.29,244.2 L312.37,240.28Z" fill="#fff" stroke="#d4a010" stroke-width="1.1" />
<circle cx="316.29" cy="240.28" r="0.45" fill="#d4a010"/>
<path d="M346.3,268.47 L350.22,272.39 L346.3,276.3 L342.39,272.39Z" fill="#fff" stroke="#d4a010" stroke-width="1.1" />
<circle cx="346.3" cy="272.39" r="0.45" fill="#d4a010"/>
<path d="M375.85,288.19 L379.27,290.68 L377.96,294.7 L373.73,294.7 L372.42,290.68Z" fill="#fff" stroke="#666666" stroke-width="1.1" />
<circle cx="375.85" cy="291.79" r="0.45" fill="#666666"/>
<rect x="283.74" y="284.13" width="6" height="6" fill="#fff" stroke="#4a8fd8" stroke-width="1.1" />
<circle cx="286.74" cy="287.13" r="0.45" fill="#4a8fd8"/>
<rect x="313.29" y="287.82" width="6" height="6" fill="#fff" stroke="#4a8fd8" stroke-width="1.1" />
<circle cx="316.29" cy="290.82" r="0.45" fill="#4a8fd8"/>
<rect x="343.3" y="295.48" width="6" height="6" fill="#fff" stroke="#4a8fd8" stroke-width="1.1" />
<circle cx="346.3" cy="298.48" r="0.45" fill="#4a8fd8"/>
<rect x="373.79" y="297.81" width="6" height="6" fill="#fff" stroke="#4a8fd8" stroke-width="1.1" />
<circle cx="376.79" cy="300.81" r="0.45" fill="#4a8fd8"/>
<path d="M329.89,220.49 V241.83 M327.59,220.49 h4.6 M327.59,241.83 h4.6" stroke="#ee3b3b" stroke-width="1.1" fill="none"/>
<path d="M329.89,225.36 L331.3,229.22 L335.4,229.37 L332.17,231.9 L333.3,235.86 L329.89,233.56 L326.48,235.86 L327.6,231.9 L324.37,229.37 L328.48,229.22Z" fill="#ee3b3b"/>
<path d="M392.26,270.84 V283.45 M389.96,270.84 h4.6 M389.96,283.45 h4.6" stroke="#ee3b3b" stroke-width="1.1" fill="none"/>
<path d="M392.26,271.34 L393.67,275.2 L397.78,275.35 L394.55,277.88 L395.67,281.83 L392.26,279.54 L388.85,281.83 L389.98,277.88 L386.75,275.35 L390.85,275.2Z" fill="#ee3b3b"/>
<path d="M424.15,311.11 L425.57,314.97 L429.67,315.12 L426.44,317.65 L427.56,321.6 L424.15,319.31 L420.75,321.6 L421.87,317.65 L418.64,315.12 L422.74,314.97Z" fill="#ee3b3b"/>
<rect x="271.4" y="194.4" width="169.2" height="136.1" fill="none" stroke="#1a1a1a" stroke-width="1.05"/>
<path d="M285.8,330.5 v-3 M332.7,330.5 v-3 M379.6,330.5 v-3 M426.5,330.5 v-3 M309.25,330.5 v-1.6 M356.15,330.5 v-1.6 M403.05,330.5 v-1.6 M271.4,291.4 h3 M271.4,242.9 h3 M271.4,194.4 h3 M271.4,315.65 h1.6 M271.4,267.15 h1.6 M271.4,218.65 h1.6 " stroke="#1a1a1a" stroke-width="1.1" fill="none"/>
<text transform="translate(285.8,340.9) scale(1,1.04)" font-size="9.6" text-anchor="middle" fill="#1a1a1a">0.4</text>
<text transform="translate(332.7,340.9) scale(1,1.04)" font-size="9.6" text-anchor="middle" fill="#1a1a1a">0.5</text>
<text transform="translate(379.6,340.9) scale(1,1.04)" font-size="9.6" text-anchor="middle" fill="#1a1a1a">0.6</text>
<text transform="translate(426.5,340.9) scale(1,1.04)" font-size="9.6" text-anchor="middle" fill="#1a1a1a">0.7</text>
<text transform="translate(268.5,294.29) scale(1,1.04)" font-size="9.6" text-anchor="end" fill="#1a1a1a">500</text>
<text transform="translate(268.5,245.79) scale(1,1.04)" font-size="9.6" text-anchor="end" fill="#1a1a1a">1,000</text>
<text transform="translate(268.5,197.29) scale(1,1.04)" font-size="9.6" text-anchor="end" fill="#1a1a1a">1,500</text>
<text x="366.1" y="232.8" font-size="9.8" text-anchor="start" fill="#f81414" >GOPB-RMEA</text>
<path d="M376.6,238.6 L369.24,246.67" stroke="#f81414" stroke-width="1.6"/>
<path d="M365.2,251.1 L366.81,243.1 L373.02,248.76Z" fill="#f81414"/>
<text x="225.5" y="194.6" font-size="15.5" text-anchor="start" fill="#1a1a1a" >d</text>
<text x="355.4" y="355.2" font-size="11.8" text-anchor="middle" fill="#1a1a1a">Homologous temperature (<tspan font-style="italic">T</tspan>/<tspan font-style="italic">T</tspan><tspan font-size="8" dy="2.5">m</tspan><tspan dy="-2.5">)</tspan></text>
<text transform="translate(235.6,262.8) rotate(-90)" font-size="11.8" text-anchor="middle" fill="#1a1a1a">Yield strength (MPa)</text>
<text x="474.4" y="211.5" font-size="10.2" text-anchor="start" fill="#1a1a1a" >This work</text>
<path d="M473.8,220.4 H478.9 M491.1,220.4 H496.7" stroke="#ee3b3b" stroke-width="1.5"/>
<path d="M485.1,215.3 L486.57,218.38 L489.95,218.82 L487.48,221.17 L488.1,224.53 L485.1,222.9 L482.1,224.53 L482.72,221.17 L480.25,218.82 L483.63,218.38Z" fill="#ee3b3b"/>
<text x="499.5" y="224.7" font-size="10.4" fill="#1a1a1a"><tspan dy="0">(WTaV)</tspan><tspan font-size="7.28" dy="2.6">90</tspan><tspan dy="-2.6">B</tspan><tspan font-size="7.28" dy="2.6">10</tspan></text>
<text x="474.4" y="251.4" font-size="10.2" text-anchor="start" fill="#1a1a1a" >RHEA</text>
<path d="M473.6,260.6 H476 M479.5,260.6 H480.7 M489.8,260.6 H492 M495.4,260.6 H496.6" stroke="#4a8fd8" stroke-width="1.3"/>
<rect x="482.2" y="257.7" width="5.8" height="5.8" fill="#fff" stroke="#4a8fd8" stroke-width="1.1" />
<circle cx="485.1" cy="260.6" r="0.4" fill="#4a8fd8"/>
<text x="499.8" y="263.8" font-size="10.4" fill="#1a1a1a"><tspan dy="0">NbMoTaW [9]</tspan></text>
<path d="M473.6,273.3 H476 M479.5,273.3 H480.7 M489.8,273.3 H492 M495.4,273.3 H496.6" stroke="#666666" stroke-width="1.3"/>
<path d="M485.1,269.28 L489.21,272.27 L487.64,277.09 L482.56,277.09 L480.99,272.27Z" fill="#fff" stroke="#666666" stroke-width="1.1" />
<circle cx="485.1" cy="273.3" r="0.4" fill="#666666"/>
<text x="499.8" y="276.6" font-size="10.4" fill="#1a1a1a"><tspan dy="0">(NbMoTaW)</tspan><tspan font-size="7.28" dy="2.6">99.5</tspan><tspan dy="-2.6">B</tspan><tspan font-size="7.28" dy="2.6">0.5</tspan><tspan dy="-2.6"> [24]</tspan></text>
<text x="474.4" y="304.1" font-size="10.2" text-anchor="start" fill="#1a1a1a" >Ceramic-reinforced RHEA</text>
<path d="M473.6,313.6 H476 M479.5,313.6 H480.7 M489.8,313.6 H492 M495.4,313.6 H496.6" stroke="#a87272" stroke-width="1.3"/>
<path d="M485,308.9 L489,315.6 L481,315.6Z" fill="#fff" stroke="#a87272" stroke-width="1.1"/>
<circle cx="485.1" cy="313.6" r="0.4" fill="#a87272"/>
<text x="499.8" y="317.2" font-size="10.4" fill="#1a1a1a"><tspan dy="0">(TiVHfNbTa)</tspan><tspan font-size="7.28" dy="2.6">90</tspan><tspan dy="-2.6">N</tspan><tspan font-size="7.28" dy="2.6">10</tspan><tspan dy="-2.6"> [16]</tspan></text>
<path d="M473.6,328.3 H476 M479.5,328.3 H480.7 M489.8,328.3 H492 M495.4,328.3 H496.6" stroke="#b48ce8" stroke-width="1.3"/>
<circle cx="485.1" cy="328.3" r="3.1" fill="#fff" stroke="#b48ce8" stroke-width="1.1" />
<circle cx="485.1" cy="328.3" r="0.4" fill="#b48ce8"/>
<text x="499.8" y="331.8" font-size="10.4" fill="#1a1a1a"><tspan dy="0">TiV</tspan><tspan font-size="7.28" dy="2.6">0.5</tspan><tspan dy="-2.6">HfNbMo</tspan><tspan font-size="7.28" dy="2.6">0.5</tspan><tspan dy="-2.6">Si</tspan><tspan font-size="7.28" dy="2.6">0.7</tspan><tspan dy="-2.6"> [31]</tspan></text>
<path d="M473.6,343 H476 M479.5,343 H480.7 M489.8,343 H492 M495.4,343 H496.6" stroke="#d4a010" stroke-width="1.3"/>
<path d="M485,338.8 L489.9,343 L485,347.2 L480.1,343Z" fill="#fff" stroke="#d4a010" stroke-width="1.2"/>
<circle cx="485.1" cy="343" r="0.4" fill="#d4a010"/>
<text x="499.8" y="346.6" font-size="10.4" fill="#1a1a1a"><tspan dy="0">NbTaW</tspan><tspan font-size="7.28" dy="2.6">0.5</tspan><tspan dy="-2.6">(Mo</tspan><tspan font-size="7.28" dy="2.6">2</tspan><tspan dy="-2.6">C)</tspan><tspan font-size="7.28" dy="2.6">0.2</tspan><tspan dy="-2.6"> [32]</tspan></text>
</svg></body></html>
